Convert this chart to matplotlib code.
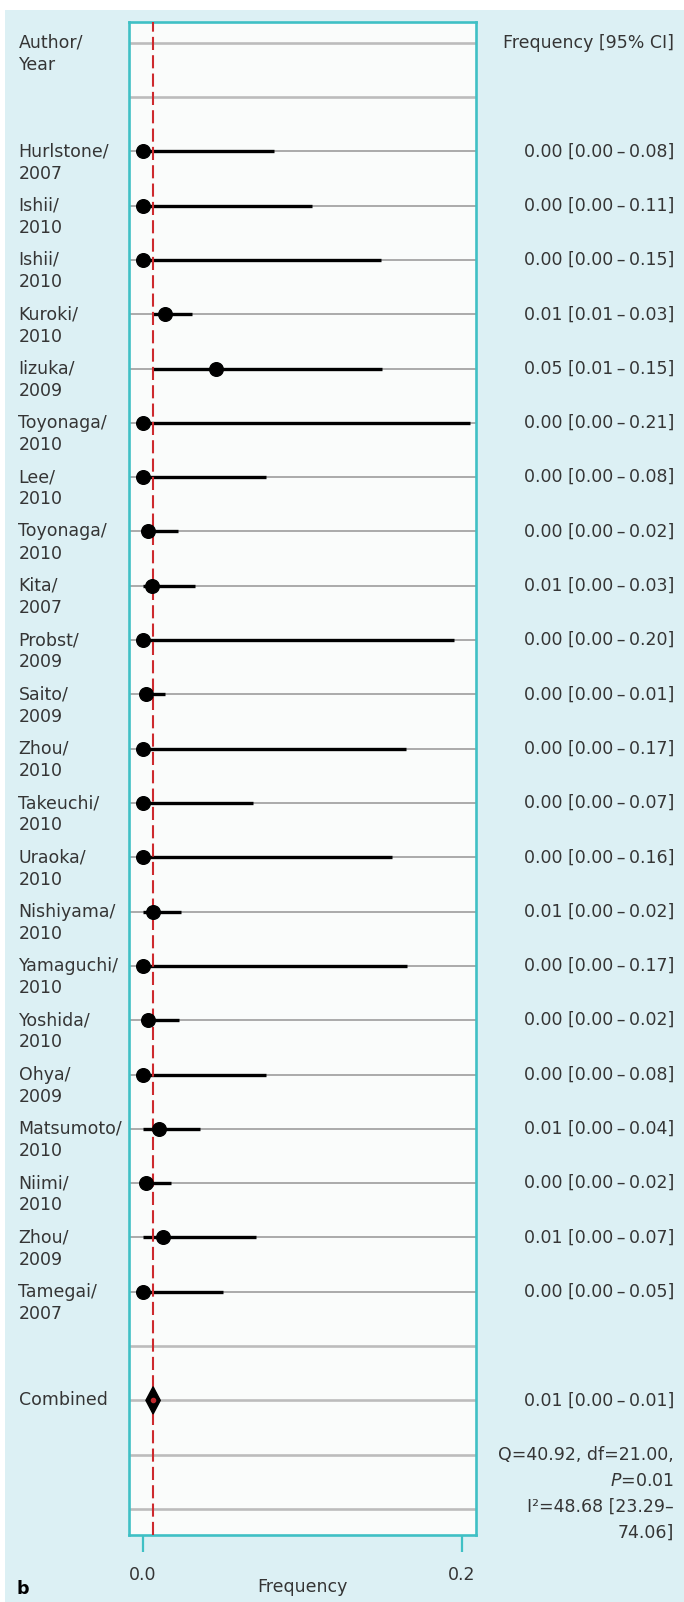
import matplotlib
matplotlib.use('Agg')
import matplotlib.pyplot as plt
import matplotlib.transforms as mtransforms
from matplotlib.patches import Rectangle, Polygon

# study data: proportion with 95% CI
authors = ['Hurlstone', 'Ishii', 'Ishii', 'Kuroki', 'Iizuka', 'Toyonaga', 'Lee',
           'Toyonaga', 'Kita', 'Probst', 'Saito', 'Zhou', 'Takeuchi', 'Uraoka',
           'Nishiyama', 'Yamaguchi', 'Yoshida', 'Ohya', 'Matsumoto', 'Niimi',
           'Zhou', 'Tamegai']
years = [2007, 2010, 2010, 2010, 2009, 2010, 2010, 2010, 2007, 2009, 2009,
         2010, 2010, 2010, 2010, 2010, 2010, 2009, 2010, 2010, 2009, 2007]
freq = [0.0, 0.0, 0.0, 0.014, 0.046, 0.0, 0.0, 0.0035, 0.0055, 0.0, 0.002,
        0.0, 0.0, 0.0, 0.0063, 0.0, 0.0035, 0.0, 0.010, 0.002, 0.013, 0.0]
ci_low = [0.0, 0.0, 0.0, 0.006, 0.006, 0.0, 0.0, 0.0, 0.0, 0.0, 0.0,
          0.0, 0.0, 0.0, 0.0, 0.0, 0.0, 0.0, 0.0, 0.0, 0.0, 0.0]
ci_high = [0.082, 0.106, 0.149, 0.031, 0.150, 0.2051, 0.077, 0.022, 0.033, 0.1952, 0.014,
           0.1652, 0.069, 0.156, 0.024, 0.1655, 0.023, 0.077, 0.036, 0.018, 0.071, 0.050]

# pooled estimate and heterogeneity
comb_est, comb_low, comb_high = 0.0065, 0.002, 0.011
q_stat, q_df, p_val = 40.92, 21.00, 0.01
i2, i2_low, i2_high = 48.68, 23.29, 74.06

W, H = 684, 1602
fig = plt.figure(figsize=(W / 100, H / 100), dpi=100)
fig.patch.set_facecolor('white')
fig.patches.append(Rectangle((5 / W, 0), 1, 1 - 10 / H, transform=fig.transFigure,
                             facecolor='#dcf0f4', edgecolor='none', zorder=-10))

teal = '#3fc0c5'
txt = '#353535'
fs = 12.5
plt.rcParams['font.family'] = ['DejaVu Sans']

ax = fig.add_axes([129 / W, 1 - 1535 / H, (475.7 - 129) / W, (1535 - 21.7) / H])
ax.set_facecolor('#fafcfb')
ax.set_xlim(-0.0086, 0.2086)
n_rows = 28
ax.set_ylim(n_rows - 1 + 0.479, -0.387)

for s in ax.spines.values():
    s.set_color(teal)
    s.set_linewidth(1.9)

ax.set_yticks([])
ax.set_xticks([0.0, 0.2])
ax.set_xticklabels(['0.0', '0.2'])
ax.tick_params(axis='x', direction='out', length=12, width=1.6, color=teal,
               labelcolor=txt, labelsize=fs, pad=10)

# row layout: header, blank, studies, blank, combined, stats, blank
study_rows = list(range(2, 2 + len(authors)))
comb_row = study_rows[-1] + 2
stat_row = comb_row + 1
for r in range(n_rows):
    if r in study_rows:
        ax.axhline(r, color='#a4a4a4', lw=1.3, zorder=1)
    else:
        ax.axhline(r, color='#bcbcbc', lw=1.9, zorder=1)

for r, est, lo, hi in zip(study_rows, freq, ci_low, ci_high):
    ax.plot([lo, hi], [r, r], color='black', lw=2.4, solid_capstyle='butt', zorder=2)
    ax.plot(est, r, 'o', color='black', ms=9.8, zorder=4)

ax.axvline(comb_est, color='#cd2a2e', lw=1.5, linestyle=(0, (6.3, 2.5)), zorder=3)

dh = 0.25
ax.add_patch(Polygon([(comb_low, comb_row), (comb_est, comb_row - dh),
                      (comb_high, comb_row), (comb_est, comb_row + dh)],
                     closed=True, facecolor='black', edgecolor='black', lw=1, zorder=5))
ax.plot(comb_est, comb_row, 'o', color='#c0282d', ms=3, zorder=6)

# text columns
tr = mtransforms.blended_transform_factory(fig.transFigure, ax.transData)
xl = 18.5 / W
xr = 674 / W
dy = 0.41
dash = '\u2009\u2013\u2009'

ax.text(xl, 0, 'Author/', transform=tr, ha='left', va='center', fontsize=fs, color=txt)
ax.text(xl, dy, 'Year', transform=tr, ha='left', va='center', fontsize=fs, color=txt)
ax.text(xr, 0, 'Frequency [95% CI]', transform=tr, ha='right', va='center',
        fontsize=fs, color=txt)

for r, a, y, est, lo, hi in zip(study_rows, authors, years, freq, ci_low, ci_high):
    ax.text(xl, r, a + '/', transform=tr, ha='left', va='center', fontsize=fs, color=txt)
    ax.text(xl, r + dy, str(y), transform=tr, ha='left', va='center', fontsize=fs, color=txt)
    ax.text(xr, r, f'{est:.2f} [{lo:.2f}{dash}{hi:.2f}]', transform=tr, ha='right',
            va='center', fontsize=fs, color=txt)

ax.text(xl, comb_row, 'Combined', transform=tr, ha='left', va='center', fontsize=fs, color=txt)
ax.text(xr, comb_row, f'{comb_est:.2f} [{comb_low:.2f}{dash}{comb_high:.2f}]', transform=tr,
        ha='right', va='center', fontsize=fs, color=txt)

stat_lines = [f'Q={q_stat:.2f}, df={q_df:.2f},',
              r'$\it{P}$' + f'={p_val:.2f}',
              f'I\u00b2={i2:.2f} [{i2_low:.2f}\u2013',
              f'{i2_high:.2f}]']
for k, line in enumerate(stat_lines):
    ax.text(xr, stat_row + k * 0.48, line, transform=tr, ha='right', va='center',
            fontsize=fs, color=txt)

fig.text(302.4 / W, 1 - 1587 / H, 'Frequency', ha='center', va='center', fontsize=fs, color=txt)
fig.text(17 / W, 1 - 1589 / H, 'b', ha='left', va='center', fontsize=fs, fontweight='bold', color='black')

fig.savefig('out.png', dpi=100)
